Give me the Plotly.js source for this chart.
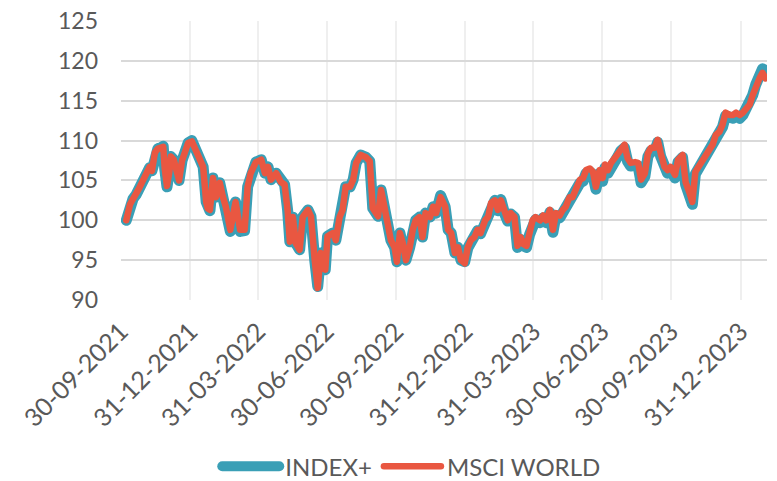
<!DOCTYPE html>
<html>
<head>
<meta charset="utf-8">
<script src="https://cdn.plot.ly/plotly-3.0.1.min.js"></script>
<style>
html,body{margin:0;padding:0;background:#fff}
#chart{width:777px;height:481px}
#chart .js-line{stroke-linejoin:round;stroke-linecap:round}
</style>
</head>
<body>
<div id="chart"></div>
<script>
const dates = ['2021-10-07','2021-10-12','2021-10-16','2021-10-20','2021-10-24','2021-10-28','2021-11-02','2021-11-07','2021-11-10','2021-11-14','2021-11-18','2021-11-22','2021-11-25','2021-11-27','2021-11-30','2021-12-03','2021-12-05','2021-12-09','2021-12-13','2021-12-16','2021-12-20','2021-12-24','2021-12-28','2022-01-02','2022-01-06','2022-01-10','2022-01-14','2022-01-17','2022-01-21','2022-01-23','2022-01-26','2022-01-30','2022-02-03','2022-02-08','2022-02-12','2022-02-16','2022-02-22','2022-02-26','2022-03-01','2022-03-07','2022-03-13','2022-03-17','2022-03-21','2022-03-28','2022-04-04','2022-04-09','2022-04-13','2022-04-17','2022-04-24','2022-04-30','2022-05-05','2022-05-09','2022-05-12','2022-05-16','2022-05-20','2022-05-25','2022-05-29','2022-06-05','2022-06-09','2022-06-14','2022-06-18','2022-06-22','2022-06-28','2022-07-01','2022-07-08','2022-07-12','2022-07-17','2022-07-21','2022-07-25','2022-07-31','2022-08-04','2022-08-08','2022-08-14','2022-08-21','2022-08-26','2022-08-30','2022-09-06','2022-09-10','2022-09-15','2022-09-19','2022-09-23','2022-09-28','2022-10-01','2022-10-05','2022-10-09','2022-10-13','2022-10-18','2022-10-22','2022-10-26','2022-10-31','2022-11-04','2022-11-08','2022-11-14','2022-11-18','2022-11-22','2022-11-28','2022-12-04','2022-12-08','2022-12-12','2022-12-17','2022-12-21','2022-12-25','2022-12-30','2023-01-03','2023-01-07','2023-01-12','2023-01-16','2023-01-20','2023-01-26','2023-01-30','2023-02-03','2023-02-08','2023-02-12','2023-02-16','2023-02-21','2023-02-25','2023-03-01','2023-03-06','2023-03-10','2023-03-14','2023-03-18','2023-03-22','2023-03-26','2023-03-30','2023-04-03','2023-04-09','2023-04-13','2023-04-17','2023-04-22','2023-04-26','2023-04-30','2023-05-05','2023-05-09','2023-05-13','2023-05-18','2023-05-22','2023-05-26','2023-06-01','2023-06-05','2023-06-09','2023-06-14','2023-06-18','2023-06-22','2023-06-27','2023-07-01','2023-07-04','2023-07-08','2023-07-12','2023-07-17','2023-07-21','2023-07-25','2023-07-30','2023-08-03','2023-08-07','2023-08-13','2023-08-17','2023-08-21','2023-08-26','2023-08-30','2023-09-03','2023-09-08','2023-09-12','2023-09-16','2023-09-21','2023-09-25','2023-09-29','2023-10-05','2023-10-09','2023-10-15','2023-10-19','2023-10-24','2023-10-28','2023-11-01','2023-11-07','2023-11-11','2023-11-15','2023-11-20','2023-11-24','2023-11-28','2023-12-03','2023-12-07','2023-12-11','2023-12-17','2023-12-21','2023-12-25','2023-12-30','2024-01-03','2024-01-07','2024-01-12','2024-01-16','2024-01-20','2024-01-25','2024-01-29','2024-02-02'];

const msciWorld = [100.0,102.0,102.7,103.2,104.0,104.8,105.9,106.7,106.2,108.5,109.0,109.1,109.2,106.5,104.3,106.0,108.0,107.6,106.2,105.0,107.5,108.8,109.7,109.9,109.0,107.9,107.4,106.7,102.3,101.5,101.3,105.3,102.9,104.7,103.0,101.7,98.8,101.7,102.3,98.8,98.8,104.2,105.9,107.3,107.6,105.9,106.7,105.1,105.9,104.8,104.5,101.3,97.3,100.4,97.1,96.3,100.4,101.3,100.5,95.0,91.5,95.9,93.8,98.0,98.4,97.5,100.4,101.3,104.2,104.2,105.1,107.2,108.2,107.9,107.4,101.5,100.5,103.8,100.9,99.2,97.5,96.6,94.8,98.4,97.1,95.0,96.6,98.8,100.0,100.4,97.9,100.9,100.4,101.7,100.9,102.9,101.7,98.8,98.4,95.9,96.6,95.0,94.6,96.6,97.5,97.9,98.8,98.4,100.0,100.4,102.2,102.5,101.3,102.5,100.9,100.0,100.9,100.4,96.8,97.9,97.0,96.8,98.4,100.0,100.4,100.0,100.6,100.0,101.3,98.8,100.9,100.6,101.3,101.7,102.9,102.9,103.8,105.1,105.3,106.3,106.5,106.1,104.2,106.3,105.3,107.0,106.3,107.2,107.8,108.4,109.1,109.5,107.8,107.2,107.3,107.2,105.1,105.9,108.4,109.1,109.1,110.1,108.4,106.7,106.3,106.7,105.7,107.6,108.2,104.8,103.5,102.3,106.1,107.0,107.8,108.4,109.1,109.5,110.7,111.1,112.0,113.5,113.2,113.2,113.5,113.2,113.5,114.1,114.5,115.7,116.8,117.8,118.5,117.8];

const indexPlus = [100.0,101.9,102.7,103.2,104.0,104.8,105.9,106.6,106.2,108.5,109.0,109.1,109.3,106.5,104.2,106.0,108.0,107.6,106.2,105.0,107.5,108.8,109.7,110.0,109.0,107.9,107.4,106.7,102.3,101.5,101.2,105.3,102.9,104.7,103.0,101.7,98.6,101.7,102.3,98.6,98.7,104.2,105.9,107.3,107.6,105.9,106.7,105.1,105.9,104.8,104.5,101.3,97.3,100.4,97.1,96.3,100.4,101.3,100.5,95.0,91.7,95.9,93.8,98.0,98.4,97.5,100.4,101.3,104.2,104.2,105.1,107.2,108.2,107.9,107.4,101.5,100.5,103.8,100.9,99.2,97.5,96.6,94.8,98.4,97.1,95.0,96.6,98.8,100.0,100.4,97.9,100.9,100.4,101.7,100.9,103.1,101.7,98.8,98.4,95.9,96.6,95.0,94.8,96.5,97.4,97.8,98.7,98.3,99.9,100.3,102.1,102.5,101.2,102.6,100.8,99.9,100.8,100.4,96.6,97.6,96.8,96.6,98.2,99.8,100.1,99.7,100.3,99.7,101.0,98.5,100.6,100.3,101.0,101.4,102.6,102.6,103.5,104.7,104.9,105.9,106.1,105.7,103.9,105.9,104.9,106.6,105.9,106.8,107.4,108.0,108.7,109.1,107.4,106.8,106.9,106.8,104.7,105.5,108.0,108.7,108.7,109.8,108.0,106.3,105.9,106.3,105.3,107.3,107.9,104.5,103.2,102.0,105.8,106.7,107.5,108.1,108.8,109.2,110.4,110.8,111.7,113.1,112.8,112.8,113.1,112.8,113.2,113.9,114.4,115.7,117.0,118.2,119.0,118.8];

const tickDates = ['2021-09-30','2021-12-31','2022-03-31','2022-06-30','2022-09-30','2022-12-31','2023-03-31','2023-06-30','2023-09-30','2023-12-31'];
const tickLabels = ['30-09-2021','31-12-2021','31-03-2022','30-06-2022','30-09-2022','31-12-2022','31-03-2023','30-06-2023','30-09-2023','31-12-2023'];
const seriesNames = ['INDEX+','MSCI WORLD'];

const FONT = 'Lato, "Open Sans", sans-serif';
const TXT = '#595959';

const traces = [
  {x: dates, y: indexPlus, name: seriesNames[0], type: 'scatter', mode: 'lines',
   line: {color: '#3A9FB6', width: 11, shape: 'linear'}},
  {x: dates, y: msciWorld, name: seriesNames[1], type: 'scatter', mode: 'lines',
   line: {color: '#E95741', width: 6.5, shape: 'linear'}}
];

const layout = {
  width: 777, height: 481,
  margin: {l: 121, r: 10, t: 21, b: 181, pad: 0},
  paper_bgcolor: '#ffffff', plot_bgcolor: '#ffffff',
  font: {family: FONT, color: TXT, size: 19},
  showlegend: true,
  legend: {orientation: 'h', x: 0.528, xanchor: 'center', xref: 'container',
           y: 0.03, yanchor: 'middle', yref: 'container',
           font: {family: FONT, size: 24, color: TXT}, itemwidth: 60, traceorder: 'normal'},
  xaxis: {type: 'date', range: ['2021-09-30', '2024-02-04'],
          tickmode: 'array', tickvals: tickDates, ticktext: tickLabels,
          tickangle: -45, tickfont: {family: FONT, size: 25, color: TXT},
          showgrid: true, gridcolor: '#efefef', gridwidth: 2,
          zeroline: false, showline: false, ticks: '', ticklabelstandoff: 11, fixedrange: true},
  yaxis: {range: [90, 125], tickmode: 'linear', tick0: 90, dtick: 5,
          tickfont: {family: FONT, size: 23, color: TXT},
          showgrid: true, gridcolor: '#d9d9d9', gridwidth: 2,
          zeroline: false, showline: false, ticks: '', ticklabelstandoff: 22, fixedrange: true}
};

Plotly.newPlot('chart', traces, layout, {displayModeBar: false, staticPlot: true}).then(function (gd) {
  // lengthen legend symbol lines to match the reference
  gd.querySelectorAll('.legendlines path').forEach(function (p) {
    p.setAttribute('d', 'M7,0h57');
    p.style.strokeLinecap = 'round';
  });
});
</script>
</body>
</html>
